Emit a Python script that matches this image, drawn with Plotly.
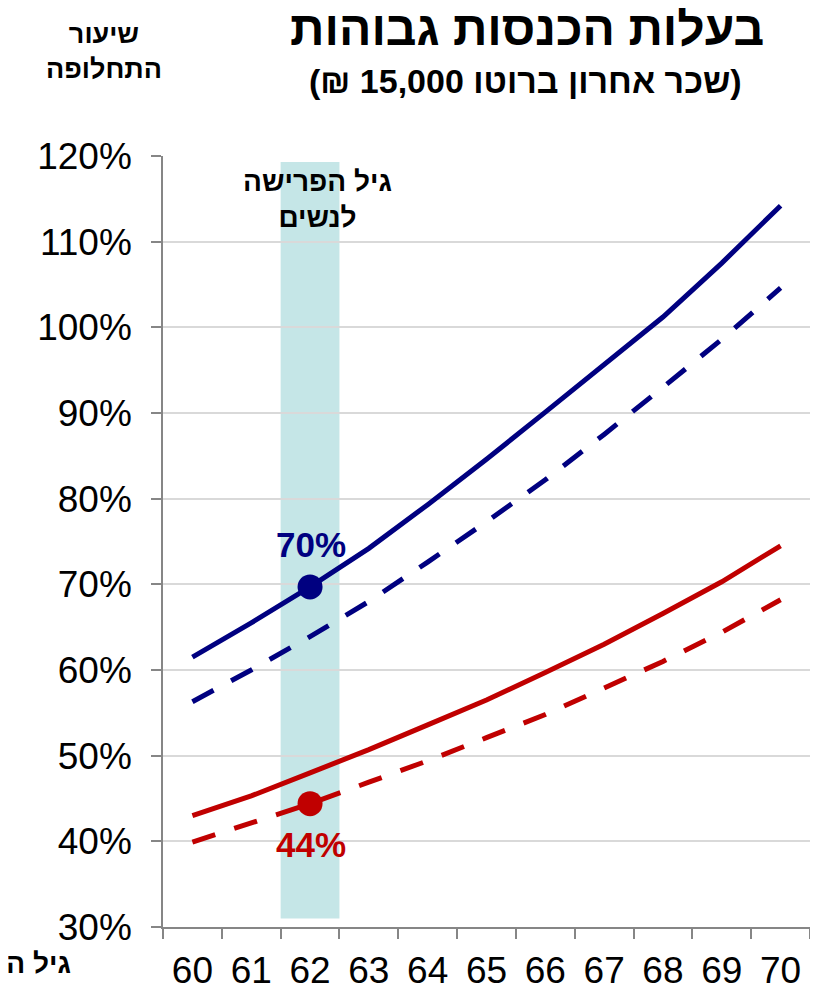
import plotly.graph_objects as go

ages = ["60", "61", "62", "63", "64", "65", "66", "67", "68", "69", "70"]
y_ticks = [0.3, 0.4, 0.5, 0.6, 0.7, 0.8, 0.9, 1.0, 1.1, 1.2]
y_tick_labels = ["30%", "40%", "50%", "60%", "70%", "80%", "90%", "100%", "110%", "120%"]

blue_solid = [0.615, 0.655, 0.697, 0.742, 0.793, 0.846, 0.901, 0.957, 1.012, 1.075, 1.142]
blue_dashed = [0.563, 0.600, 0.639, 0.680, 0.726, 0.773, 0.822, 0.875, 0.930, 0.986, 1.046]
red_solid = [0.430, 0.453, 0.480, 0.507, 0.536, 0.565, 0.597, 0.630, 0.666, 0.703, 0.745]
red_dashed = [0.399, 0.421, 0.444, 0.469, 0.494, 0.521, 0.548, 0.579, 0.610, 0.644, 0.682]

women_age = "62"
band_low, band_high = 0.31, 1.193

title = "בעלות הכנסות גבוהות"
subtitle = "\u200F(שכר אחרון ברוטו 15,000 ₪)\u200F"
y_title = "שיעור<br>התחלופה"
x_title = "גיל הפרישה"
band_label = "גיל הפרישה<br>לנשים"

NAVY = "#000080"
RED = "#C00000"
FONT = "Liberation Sans, Arial, sans-serif"

# page has an 8px body margin; work in window pixels and offset
OFF = 8
W, H = 818 - OFF, 987 - OFF
L, R, T, B = 163 - OFF, 8, 156 - OFF, H - (926.7 - OFF)
pw, ph = W - L - R, H - T - B

def px(x):
    return (x - OFF - L) / pw

def py(y):
    return (H - B - (y - OFF)) / ph

fig = go.Figure()
series = [
    (blue_solid, NAVY, "solid"),
    (blue_dashed, NAVY, "24px,20px"),
    (red_solid, RED, "solid"),
    (red_dashed, RED, "24px,20px"),
]
for vals, col, dash in series:
    fig.add_trace(go.Scatter(x=ages, y=vals, mode="lines",
                             line=dict(color=col, width=5, dash=dash),
                             showlegend=False, hoverinfo="skip"))

i = ages.index(women_age)
for vals, col, shift in [(blue_solid, NAVY, 42), (red_dashed, RED, -41)]:
    fig.add_trace(go.Scatter(x=[ages[i]], y=[vals[i]], mode="markers",
                             marker=dict(color=col, size=25),
                             showlegend=False, hoverinfo="skip"))
    fig.add_annotation(x=i, y=vals[i], xref="x", yref="y",
                       text=f"<b>{round(vals[i]*100)}%</b>", showarrow=False,
                       yshift=shift, xshift=1, font=dict(family=FONT, size=35, color=col))

fig.add_shape(type="rect", xref="x", yref="y", x0=i - 0.5, x1=i + 0.5,
              y0=band_low, y1=band_high, fillcolor="#C5E6E7",
              line=dict(width=0), layer="below")

fig.add_annotation(x=px(527), y=py(29), xref="paper", yref="paper", text=f"<b>{title}</b>",
                   showarrow=False, xanchor="center", yanchor="middle",
                   font=dict(family=FONT, size=48, color="#000000"))
fig.add_annotation(x=px(525), y=py(81), xref="paper", yref="paper", text=f"<b>{subtitle}</b>",
                   showarrow=False, xanchor="center", yanchor="middle",
                   font=dict(family=FONT, size=34, color="#000000"))
fig.add_annotation(x=px(104), y=py(52), xref="paper", yref="paper", text=f"<b>{y_title}</b>",
                   showarrow=False, xanchor="center", yanchor="middle",
                   font=dict(family=FONT, size=27, color="#000000"))
fig.add_annotation(x=px(317), y=py(199), xref="paper", yref="paper", text=f"<b>{band_label}</b>",
                   showarrow=False, xanchor="center", yanchor="middle",
                   font=dict(family=FONT, size=28, color="#000000"))
fig.add_annotation(x=px(73), y=py(963), xref="paper", yref="paper", text=f"<b>{x_title}</b>",
                   showarrow=False, xanchor="right", yanchor="middle",
                   font=dict(family=FONT, size=28, color="#000000"))

fig.update_layout(
    width=W, height=H,
    margin=dict(l=L, r=R, t=T, b=B),
    plot_bgcolor="white", paper_bgcolor="white",
    font=dict(family=FONT, color="#000000"),
)
fig.update_xaxes(type="category", range=[-0.5, 10.5], tickson="boundaries",
                 ticks="outside", ticklen=10, tickwidth=1.5, tickcolor="#868686",
                 showline=True, linecolor="#868686", linewidth=1.5, automargin=False,
                 ticklabelstandoff=10,
                 showgrid=False, tickfont=dict(size=37, color="#000000"))
fig.update_yaxes(range=[0.3, 1.2], tickvals=y_ticks, ticktext=y_tick_labels,
                 ticks="outside", ticklen=10, tickwidth=1.5, tickcolor="#868686",
                 showline=True, linecolor="#868686", linewidth=1.5, automargin=False,
                 ticklabelstandoff=12,
                 showgrid=True, gridcolor="#D9D9D9", gridwidth=1.5,
                 zeroline=False, tickfont=dict(size=37, color="#000000"))

fig.write_html("out.html")
